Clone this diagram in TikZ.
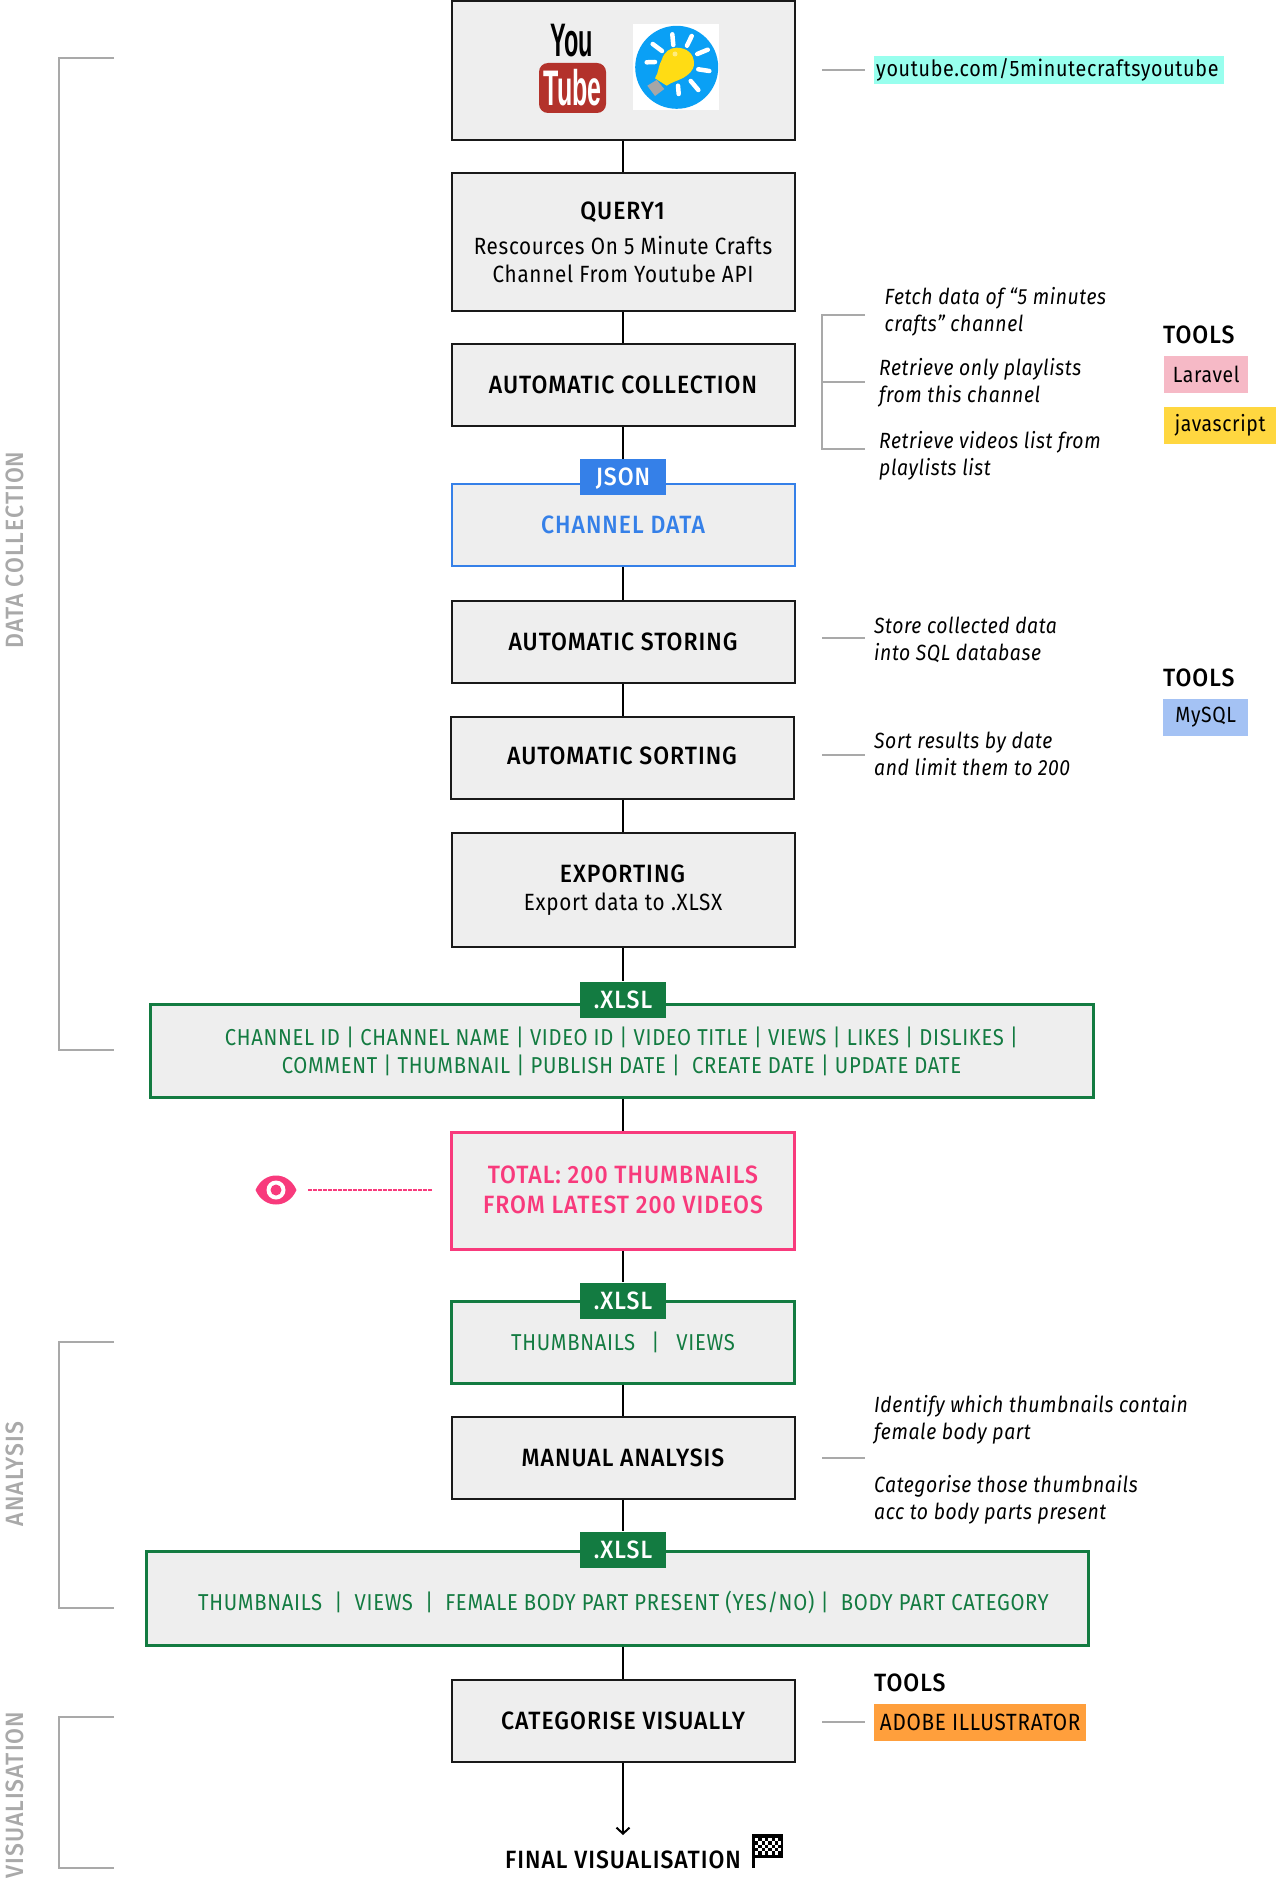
\documentclass[tikz,border=0pt]{standalone}
\usepackage{fontspec}
\setmainfont{Fira Sans}[FakeStretch=0.88,LetterSpace=3,BoldFont={Fira Sans Medium},BoldFeatures={FakeStretch=0.92,LetterSpace=4},ItalicFeatures={FakeStretch=0.88,LetterSpace=2.7}]
\newfontfamily\ytfont{Liberation Sans}[FakeStretch=0.5]
\usetikzlibrary{positioning,arrows.meta}
\definecolor{boxgray}{HTML}{EEEEEE}
\definecolor{sidegray}{HTML}{A9A9A9}
\definecolor{jsonblue}{HTML}{3580E8}
\definecolor{xlslgreen}{HTML}{137B41}
\definecolor{totalpink}{HTML}{F83A7C}
\definecolor{urlcyan}{HTML}{98FFEE}
\definecolor{laravelpink}{HTML}{F6B9C6}
\definecolor{jsyellow}{HTML}{FFD740}
\definecolor{mysqlblue}{HTML}{A4C2F4}
\definecolor{aiorange}{HTML}{FF9F3C}
\definecolor{tubered}{HTML}{B3322B}
\definecolor{bulbblue}{HTML}{0AA0F5}
\definecolor{bulbyellow}{HTML}{FFDC14}
\tikzset{
block/.style = {draw=black!90, line width=2pt, fill=boxgray, rectangle, minimum width=343pt, minimum height=82pt, align=center, inner sep=0pt, font=\fontsize{23.5}{28}\selectfont},
title/.style = {font=\fontsize{25}{29}\selectfont\bfseries},
datablue/.style = {block, draw=jsonblue, text=jsonblue, title},
datagreen/.style = {block, draw=xlslgreen, text=xlslgreen, line width=3pt, font=\fontsize{23}{28}\selectfont},
datapink/.style = {block, draw=totalpink, text=totalpink, line width=3pt, font=\fontsize{25}{30}\selectfont\bfseries},
tagbox/.style = {fill=#1, text=white, minimum width=86pt, minimum height=36pt, inner sep=0pt, text height=17pt, text depth=0pt, font=\fontsize{25}{29}\selectfont\bfseries},
tmp/.style = {coordinate},
note/.style = {anchor=west, align=left, inner sep=0pt, font=\fontsize{22}{27}\selectfont\itshape},
head/.style = {anchor=west, inner sep=0pt, font=\fontsize{25}{29}\selectfont\bfseries},
tool/.style = {fill=#1, anchor=west, minimum height=37pt, inner sep=0pt, font=\fontsize{22}{27}\selectfont},
side/.style = {rotate=90, inner sep=0pt, text=sidegray, font=\fontsize{25}{30}\selectfont\bfseries},
guide/.style = {draw=sidegray, line width=2pt}
}
\begin{document}
\begin{tikzpicture}[x=1pt, y=-1pt, node distance=100pt, >={Straight Barb[length=6pt,width=13pt]}]
  \useasboundingbox (0,0) rectangle (1276,1889);

  % main column
  \node [block, minimum height=139pt] at (623,71)                    (logo)       {};
  \node [block, below of=logo, node distance=171pt, minimum height=138pt] (query)  {\textbf{\fontsize{25}{29}\selectfont QUERY1}\\[7pt]Rescources On 5 Minute Crafts\\Channel From Youtube API};
  \node [block, title, below of=query, node distance=143pt]          (collection) {AUTOMATIC COLLECTION};
  \node [datablue, below of=collection, node distance=140pt]         (channel)    {CHANNEL DATA};
  \node [block, title, below of=channel, node distance=117pt]        (storing)    {AUTOMATIC STORING};
  \node [block, title, below of=storing, node distance=116pt, xshift=-1pt, text depth=5pt] (sorting) {AUTOMATIC SORTING};
  \node [block, below of=sorting, node distance=132pt, xshift=1pt, minimum height=114pt] (exporting) {\textbf{\fontsize{25}{29}\selectfont EXPORTING}\\Export data to .XLSX};
  \node [datagreen, minimum width=943pt, minimum height=93pt] at (621.5,1051) (fields) {CHANNEL ID | CHANNEL NAME | VIDEO ID | VIDEO TITLE | VIEWS | LIKES | DISLIKES |\\COMMENT | THUMBNAIL | PUBLISH DATE |\ \ CREATE DATE | UPDATE DATE};
  \node [datapink, minimum height=117pt, text depth=2pt] at (623,1191) (total)    {TOTAL: 200 THUMBNAILS\\FROM LATEST 200 VIDEOS};
  \node [datagreen, below of=total, node distance=151pt]             (thumbs)     {THUMBNAILS\hspace{16pt}|\hspace{17pt}VIEWS};
  \node [block, title, below of=thumbs, node distance=116pt]         (manual)     {MANUAL ANALYSIS};
  \node [datagreen, minimum width=942pt, minimum height=94pt, text height=24pt, text depth=0pt] at (617.5,1598) (parts) {\hspace*{12pt}THUMBNAILS\ \ |\ \ VIEWS\ \ |\ \ FEMALE BODY PART PRESENT (YES/NO) |\ \ BODY PART CATEGORY};
  \node [block, title, below of=manual, node distance=263pt]         (categorise) {CATEGORISE VISUALLY};
  \node [head, anchor=center, below of=categorise, node distance=139pt] (final) {FINAL VISUALISATION};

  % format tags
  \node [tagbox=jsonblue, above of=channel, node distance=48pt]      (json)       {JSON};
  \node [tagbox=xlslgreen, below of=exporting, node distance=109.5pt] (xlsla)     {.XLSL};
  \node [tagbox=xlslgreen, below of=total, node distance=109.5pt]    (xlslb)      {.XLSL};
  \node [tagbox=xlslgreen, below of=manual, node distance=91.5pt]    (xlslc)      {.XLSL};

  \draw [line width=2pt] (logo) -- (query) -- (collection) -- (json);
  \draw [line width=2pt] (channel) -- (storing) -- (storing |- sorting.north);
  \draw [line width=2pt] (exporting |- sorting.south) -- (exporting) -- (xlsla);
  \draw [line width=2pt] (total |- fields.south) -- (total) -- (xlslb);
  \draw [line width=2pt] (thumbs) -- (manual) -- (xlslc);
  \draw [line width=2pt] (categorise |- parts.south) -- (categorise);
  \coordinate (arrowend) at (623,1835);
  \draw [->, line width=2pt] (categorise) -- (arrowend);

  % youtube logo and bulb
  \node [font=\fontsize{47}{47}\selectfont\ytfont\bfseries, inner sep=0pt] at (572,41) (you) {You};
  \node [fill=tubered, rounded corners=9pt, minimum width=67pt, minimum height=50pt, inner sep=0pt, text=white, font=\fontsize{50}{50}\selectfont\ytfont\bfseries] at (572.5,88) (tube) {Tube};
  \node [fill=white, minimum width=86pt, minimum height=86pt, inner sep=0pt] at (676,67.5) (bulbbg) {};
  \fill [bulbblue] (676.7,67.3) circle [radius=41.5];
  \foreach \xa/\ya/\xb/\yb in {672.3/34.3/673.3/45,691.7/36/687/45.7,697.3/54/707.7/49.7,698.3/69.3/709.3/71,690.7/81/698.3/90,678/85.7/678.7/94,652.7/44/662/51,646.7/62.3/655/62}
    \draw [white, line width=4.5pt, line cap=round] (\xa,\ya) -- (\xb,\yb);
  \fill [bulbyellow] (655,78.3) .. controls (659,72) and (658,66) .. (661.7,60) .. controls (664,52) and (670,47.7) .. (676.7,47.7) .. controls (687,47.7) and (694,54) .. (694,63.3) .. controls (694,71) and (688,75) .. (683,78) .. controls (677,81) and (672,82) .. (666.7,85.7) -- cycle;
  \fill [white!45!bulbyellow] (675,54) circle [radius=2.5];
  \fill [gray!70] (647.3,85.7) -- (656.7,80) -- (664.3,89) -- (655,96) -- cycle;

  % notes on the right
  \node [tmp] at (822,70) (la) {};
  \node [tmp] at (865,70) (lb) {};
  \draw [guide] (la) -- (lb);
  \node [fill=urlcyan, anchor=west, text width=346pt, align=left, inner xsep=2pt, inner ysep=0pt, minimum height=28pt, font=\fontsize{22.4}{27}\selectfont] at (874,70) (url) {youtube.com/5minutecraftsyoutube};

  \node [note] at (884.5,311.5) (fetch) {Fetch data of “5 minutes\\crafts” channel};
  \node [note] at (879,383) (only)  {Retrieve only playlists\\from this channel};
  \node [note] at (879,455.5) (list) {Retrieve videos list from\\playlists list};
  \node [tmp] at (822,315) (ba) {};
  \node [tmp] at (865,315) (bb) {};
  \node [tmp] at (822,382) (bc) {};
  \node [tmp] at (865,382) (bd) {};
  \node [tmp] at (822,449) (be) {};
  \node [tmp] at (865,449) (bf) {};
  \draw [guide] (bb) -- (ba) -- (be) -- (bf);
  \draw [guide] (bc) -- (bd);

  \node [head] at (1163,335) (toolsa) {TOOLS};
  \node [tool=laravelpink, minimum width=84pt] at (1164,374.5) (laravel) {Laravel};
  \node [tool=jsyellow, minimum width=112pt] at (1164,425) (js) {javascript};

  \node [tmp] at (822,638) (ca) {};
  \node [tmp] at (865,638) (cb) {};
  \draw [guide] (ca) -- (cb);
  \node [note] at (874,640) (store) {Store collected data\\into SQL database};
  \node [tmp] at (822,755) (da) {};
  \node [tmp] at (865,755) (db) {};
  \draw [guide] (da) -- (db);
  \node [note] at (874,754) (sort) {Sort results by date\\and limit them to 200};
  \node [head] at (1163,678) (toolsb) {TOOLS};
  \node [tool=mysqlblue, minimum width=85pt] at (1163,717.5) (mysql) {MySQL};

  \node [tmp] at (822,1458) (ea) {};
  \node [tmp] at (865,1458) (eb) {};
  \draw [guide] (ea) -- (eb);
  \node [note] at (874,1419.5) (identify) {Identify which thumbnails contain\\female body part};
  \node [note] at (874,1500) (bodyparts) {Categorise those thumbnails\\acc to body parts present};

  \node [head] at (874,1683) (toolsc) {TOOLS};
  \node [tmp] at (822,1722) (fa) {};
  \node [tmp] at (865,1722) (fb) {};
  \draw [guide] (fa) -- (fb);
  \node [tool=aiorange, minimum width=212pt, font=\fontsize{23.5}{27}\selectfont] at (874,1722) (illustrator) {ADOBE ILLUSTRATOR};

  % eye
  \fill [totalpink] (255.5,1190) .. controls (260,1180) and (268,1175.5) .. (276,1175.5) .. controls (284,1175.5) and (292,1180) .. (296.5,1190) .. controls (292,1200) and (284,1204.5) .. (276,1204.5) .. controls (268,1204.5) and (260,1200) .. (255.5,1190) -- cycle;
  \fill [white] (276,1190) circle [radius=9.5];
  \fill [totalpink] (276,1190) circle [radius=5.5];
  \node [tmp] at (308,1190) (ga) {};
  \node [tmp] at (433,1190) (gb) {};
  \draw [totalpink, line width=1.6pt, dash pattern=on 3.5pt off 1.5pt] (ga) -- (gb);

  % flag
  \fill [black] (752,1834) rectangle (783,1858);
  \foreach \i in {0,...,7}
    \foreach \j in {0,...,4}{
      \pgfmathparse{int(mod(\i+\j,2))}
      \ifnum\pgfmathresult=0 \fill [white] (755+3.3*\i,1838+3.3*\j) rectangle ++(3.3,3.3); \fi
    }
  \node [tmp] at (753.5,1834) (pa) {};
  \node [tmp] at (753.5,1868) (pb) {};
  \draw [line width=2.5pt] (pa) -- (pb);

  % stage brackets
  \node [tmp] at (114,58) (ha) {};
  \node [tmp] at (59,58) (hb) {};
  \node [tmp] at (59,1050) (hc) {};
  \node [tmp] at (114,1050) (hd) {};
  \draw [guide] (ha) -- (hb) -- (hc) -- (hd);
  \node [tmp] at (114,1342) (ia) {};
  \node [tmp] at (59,1342) (ib) {};
  \node [tmp] at (59,1608) (ic) {};
  \node [tmp] at (114,1608) (id) {};
  \draw [guide] (ia) -- (ib) -- (ic) -- (id);
  \node [tmp] at (114,1717) (ja) {};
  \node [tmp] at (59,1717) (jb) {};
  \node [tmp] at (59,1868) (jc) {};
  \node [tmp] at (114,1868) (jd) {};
  \draw [guide] (ja) -- (jb) -- (jc) -- (jd);

  \node [side] at (15,550) (stagea) {DATA COLLECTION};
  \node [side] at (15,1474) (stageb) {ANALYSIS};
  \node [side] at (15,1795) (stagec) {VISUALISATION};
\end{tikzpicture}
\end{document}
